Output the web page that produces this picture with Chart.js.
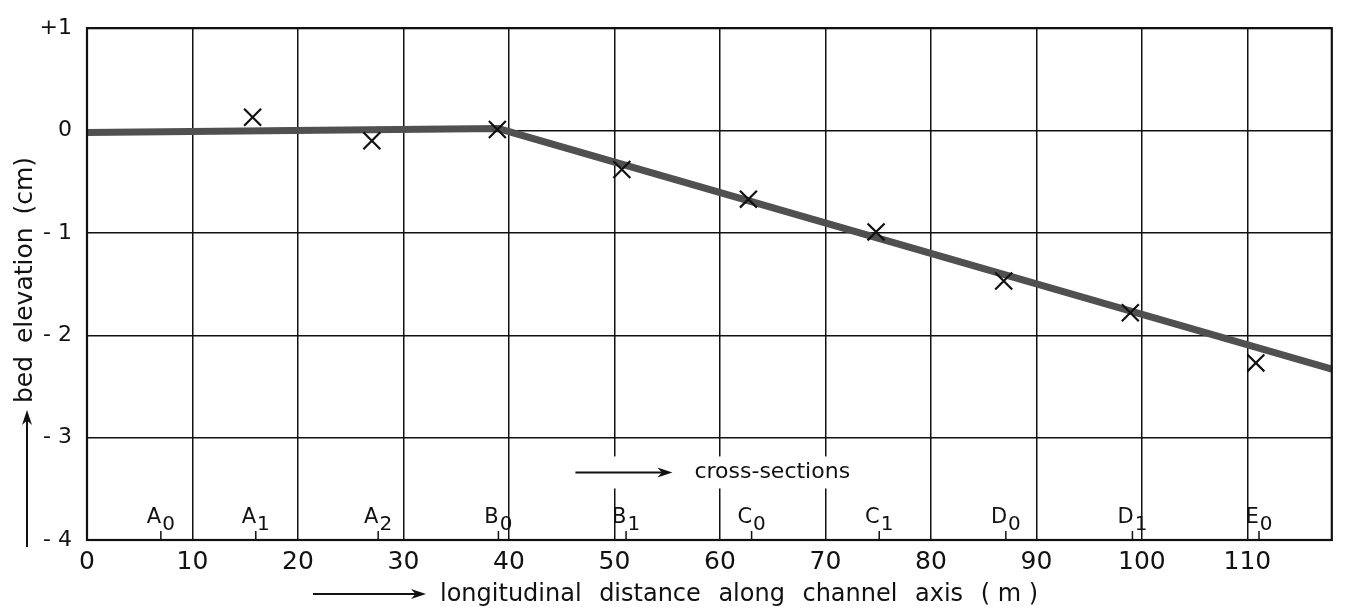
<!DOCTYPE html>
<html>
<head>
<meta charset="utf-8">
<script src="https://cdn.jsdelivr.net/npm/chart.js@4/dist/chart.umd.min.js"></script>
<style>
  html, body { margin: 0; padding: 0; background: #fff; }
  #wrap { width: 1346px; height: 612px; }
</style>
</head>
<body>
<div id="wrap"><canvas id="chart"></canvas></div>
<script>
// axis ticks
const xTicks = [0, 10, 20, 30, 40, 50, 60, 70, 80, 90, 100, 110];
const yTicks = [-4, -3, -2, -1, 0, 1];
const yTickLabels = ["- 4", "- 3", "- 2", "- 1", "0", "+1"];

// measured bed elevations (crosses)
const measX = [15.7, 27.0, 38.9, 50.7, 62.7, 74.8, 86.9, 98.9, 110.8];
const measY = [0.13, -0.10, 0.01, -0.38, -0.67, -0.99, -1.47, -1.78, -2.27];

// fitted bed line
const fitX = [0, 39, 118];
const fitY = [-0.02, 0.02, -2.33];

// cross-section positions along the axis
const sectionLetters = ["A", "A", "A", "B", "B", "C", "C", "D", "D", "E"];
const sectionSubs    = ["0", "1", "2", "0", "1", "0", "1", "0", "1", "0"];
const sectionPos     = [7.0, 16.0, 27.6, 39.0, 51.1, 63.0, 75.1, 87.1, 99.1, 111.1];

const FONT = "'DejaVu Sans', sans-serif";

function arrow(ctx, x1, y1, x2, y2) {
    const ang = Math.atan2(y2 - y1, x2 - x1);
    const len = 15, half = 5;
    ctx.save();
    ctx.strokeStyle = "#111";
    ctx.fillStyle = "#111";
    ctx.lineWidth = 2;
    ctx.beginPath();
    ctx.moveTo(x1, y1);
    ctx.lineTo(x2 - Math.cos(ang) * len * 0.6, y2 - Math.sin(ang) * len * 0.6);
    ctx.stroke();
    ctx.translate(x2, y2);
    ctx.rotate(ang);
    ctx.beginPath();
    ctx.moveTo(0, 0);
    ctx.lineTo(-len, -half);
    ctx.lineTo(-len * 0.7, 0);
    ctx.lineTo(-len, half);
    ctx.closePath();
    ctx.fill();
    ctx.restore();
}

// draw words spread over a given width
function spreadText(ctx, words, x, y, width) {
    const wsum = words.reduce((s, w) => s + ctx.measureText(w).width, 0);
    const gap = (width - wsum) / (words.length - 1);
    let cx = x;
    words.forEach(w => {
        ctx.fillText(w, cx, y);
        cx += ctx.measureText(w).width + gap;
    });
}

const overlays = {
    id: "overlays",
    afterDraw(chart) {
        const ctx = chart.ctx;
        const xs = chart.scales.x, ys = chart.scales.y;
        const a = chart.chartArea;

        // frame
        ctx.save();
        ctx.strokeStyle = "#111";
        ctx.lineWidth = 2.2;
        ctx.strokeRect(a.left, a.top, a.right - a.left, a.bottom - a.top);

        // cross-sections note, with a gap in the grid behind it
        const nx = xs.getPixelForValue(46.3);
        const ny = ys.getPixelForValue(-3.34);
        ctx.fillStyle = "#fff";
        ctx.fillRect(nx - 8, ny - 16, 292, 32);
        arrow(ctx, nx, ny, nx + 97, ny);
        ctx.fillStyle = "#111";
        ctx.font = "22px " + FONT;
        ctx.textBaseline = "alphabetic";
        ctx.textAlign = "left";
        spreadText(ctx, ["cross-sections"], nx + 119, ny + 6, 0);

        // section ticks and labels
        ctx.strokeStyle = "#111";
        ctx.lineWidth = 1.5;
        sectionPos.forEach((p, i) => {
            const px = xs.getPixelForValue(p);
            ctx.beginPath();
            ctx.moveTo(px, a.bottom);
            ctx.lineTo(px, a.bottom - 9);
            ctx.stroke();
            ctx.font = "21px " + FONT;
            const wl = ctx.measureText(sectionLetters[i]).width;
            ctx.font = "20px " + FONT;
            const ws = ctx.measureText(sectionSubs[i]).width;
            const left = px - (wl + ws + 1) / 2;
            ctx.font = "21px " + FONT;
            ctx.fillText(sectionLetters[i], left, a.bottom - 17);
            ctx.font = "20px " + FONT;
            ctx.fillText(sectionSubs[i], left + wl + 1, a.bottom - 10);
        });

        // x title
        ctx.font = "24px " + FONT;
        arrow(ctx, 313, 594, 426, 594);
        spreadText(ctx, ["longitudinal", "distance", "along", "channel", "axis", "( m )"], 440, 601, 598);

        // y title
        ctx.save();
        ctx.translate(32, 280);
        ctx.rotate(-Math.PI / 2);
        ctx.textAlign = "left";
        ctx.font = "25px " + FONT;
        spreadText(ctx, ["bed", "elevation", "(cm)"], -123, 0, 246);
        ctx.restore();
        arrow(ctx, 27, 547, 27, 410);
        ctx.restore();
    }
};

new Chart(document.getElementById("chart"), {
    type: "scatter",
    data: {
        datasets: [
            {
                label: "measured",
                data: measX.map((x, i) => ({ x, y: measY[i] })),
                pointStyle: "crossRot",
                pointRadius: 12,
                pointBorderWidth: 2.2,
                pointBorderColor: "#111",
                showLine: false,
            },
            {
                label: "bed",
                data: fitX.map((x, i) => ({ x, y: fitY[i] })),
                showLine: true,
                borderColor: "#505050",
                borderWidth: 7,
                pointRadius: 0,
                tension: 0,
            },
        ]
    },
    options: {
        responsive: true,
        maintainAspectRatio: false,
        animation: false,
        layout: { padding: { left: 0, top: 13, right: 14, bottom: 0 } },
        plugins: { legend: { display: false }, tooltip: { enabled: false } },
        scales: {
            x: {
                type: "linear",
                min: 0,
                max: 118,
                afterBuildTicks: s => { s.ticks = xTicks.map(v => ({ value: v })); },
                afterFit: s => { s.height = 72; },
                grid: { color: "#111", lineWidth: 1.5, drawTicks: false },
                border: { color: "#111", width: 2 },
                ticks: {
                    padding: 7,
                    maxRotation: 0,
                    color: "#111",
                    font: { family: FONT, size: 25 },
                },
            },
            y: {
                type: "linear",
                min: -4,
                max: 1,
                afterBuildTicks: s => { s.ticks = yTicks.map(v => ({ value: v })); },
                afterFit: s => { s.width = 87; },
                grid: { color: "#111", lineWidth: 1.5, drawTicks: false },
                border: { color: "#111", width: 2 },
                ticks: {
                    padding: 15,
                    color: "#111",
                    font: { family: FONT, size: 22 },
                    callback: v => yTickLabels[yTicks.indexOf(v)],
                },
            },
        },
    },
    plugins: [overlays],
});
</script>
</body>
</html>
